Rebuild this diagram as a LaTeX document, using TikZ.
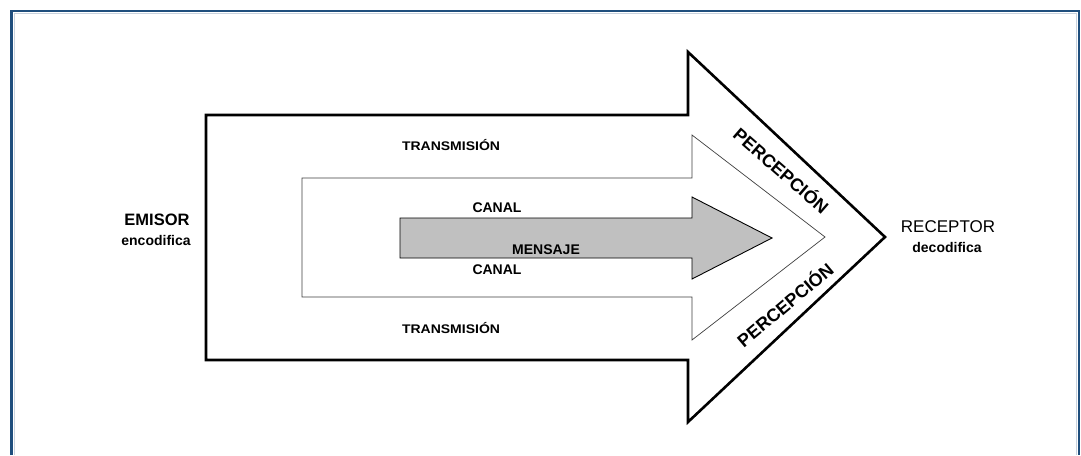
\documentclass[tikz,border=0pt]{standalone}
\usepackage{fontspec}
\setmainfont{Liberation Sans}
\definecolor{frameblue}{RGB}{31,78,125}
\definecolor{framelight}{RGB}{200,210,222}
\definecolor{msggray}{RGB}{192,192,192}
\begin{document}
\begin{tikzpicture}[x=1pt,y=-1pt,
  lbl/.style={inner sep=0pt,anchor=base,font=\bfseries\fontsize{14}{16}\selectfont},
  trans/.style={lbl,font=\bfseries\fontsize{12.5}{14}\selectfont,xscale=1.12},
  party/.style={inner sep=0pt,anchor=base,font=\fontsize{17}{19}\selectfont},
  sub/.style={inner sep=0pt,anchor=base,font=\bfseries\fontsize{14}{16}\selectfont},
  perc/.style={inner sep=0pt,font=\bfseries\fontsize{18}{20}\selectfont},
  outerarrow/.style={draw=black,line width=2.6pt,line join=miter,fill=white},
  innerarrow/.style={draw=black!75,line width=0.7pt,fill=white},
  msgarrow/.style={draw=black,line width=0.9pt,fill=msggray}]
\useasboundingbox (0,0) rectangle (1081,455);
\fill[white] (0,0) rectangle (1081,455);
% page frame
\draw[framelight,line width=0.8pt] (14,455) -- (14,13.5) -- (1076.5,13.5) -- (1076.5,455);
\draw[frameblue,line width=2.4pt] (11.5,455) -- (11.5,11) -- (1079,11) -- (1079,455);

% transmission arrow (outer)
\draw[outerarrow] (206,115) -- (688,115) -- (688,52) -- (885,237)
  -- (688,422) -- (688,360) -- (206,360) -- cycle;
% channel arrow (middle)
\draw[innerarrow] (302,178) -- (692,178) -- (692,135) -- (825,237)
  -- (692,340) -- (692,297) -- (302,297) -- cycle;
% message arrow (inner)
\draw[msgarrow] (400,218) -- (692,218) -- (692,197) -- (772,238)
  -- (692,279) -- (692,258) -- (400,258) -- cycle;

% labels
\node[trans] (transTop) at (451,150.7) {TRANSMISIÓN};
\node[trans] (transBot) at (451,333) {TRANSMISIÓN};
\node[lbl] (canalTop) at (497,212.3) {CANAL};
\node[lbl] (canalBot) at (497,274) {CANAL};
\node[lbl] (mensaje) at (546,254) {MENSAJE};

\node[party,font=\bfseries\fontsize{16.5}{19}\selectfont] (emisor) at (157,225) {EMISOR};
\node[sub] (encod) at (156,245) {encodifica};
\node[party] (receptor) at (948,232) {RECEPTOR};
\node[sub] (decod) at (947,252.5) {decodifica};

\node[perc,rotate=-41] (percTop) at (782,170) {PERCEPCIÓN};
\node[perc,rotate=40] (percBot) at (784.5,304) {PERCEPCIÓN};
\end{tikzpicture}
\end{document}
